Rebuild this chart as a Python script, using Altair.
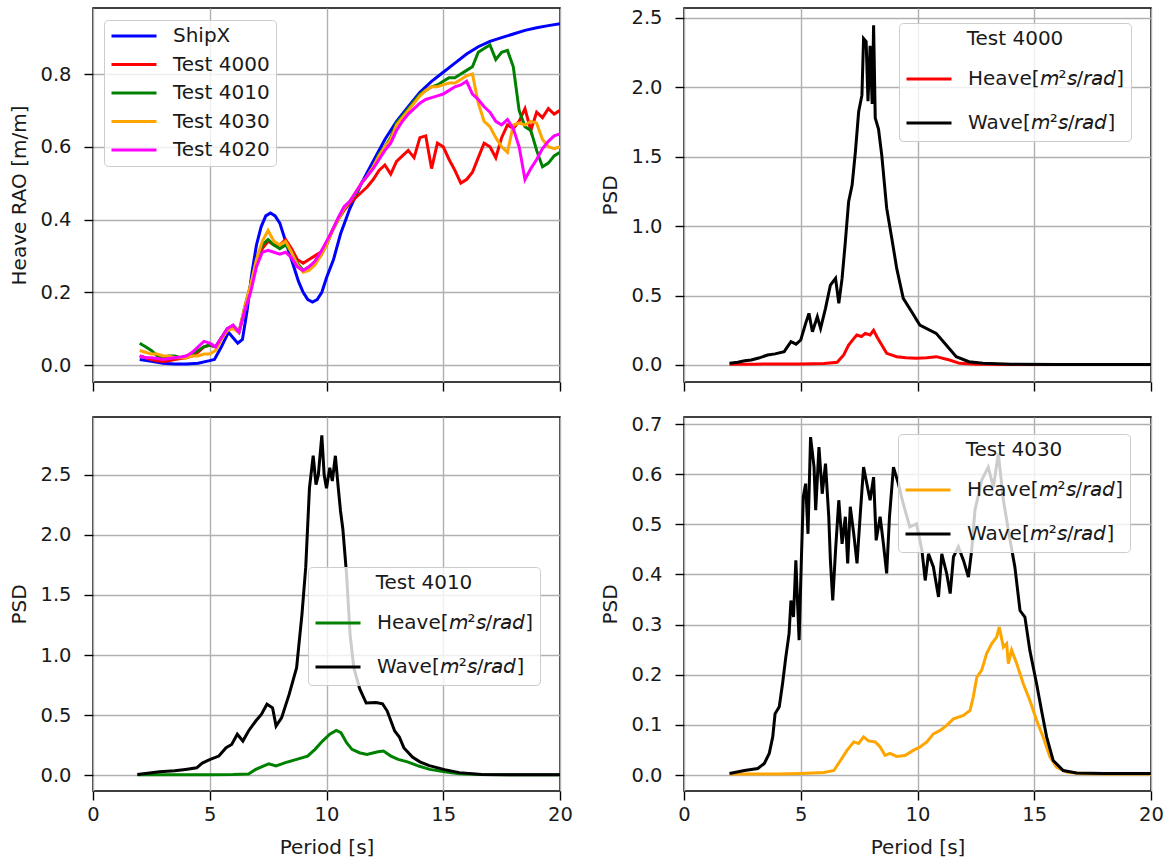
import altair as alt
import pandas as pd

FONT = "DejaVu Sans"
TXT = "#1a1a1a"
FS = 19.5      # tick labels
FT = 20        # axis titles and legend text

# ---------------- Top-left: Heave RAO ----------------
shipx_period = [2.0, 2.5, 3.0, 3.5, 4.0, 4.5, 5.0, 5.2, 5.5, 5.8, 6.0, 6.2, 6.4, 6.6, 6.8,
                7.0, 7.2, 7.4, 7.6, 7.8, 8.0, 8.2, 8.4, 8.6, 8.8, 9.0, 9.2, 9.4, 9.6, 9.8,
                10.0, 10.3, 10.6, 11.0, 11.5, 12.0, 12.5, 13.0, 13.5, 14.0, 14.5, 15.0, 15.5,
                16.0, 16.5, 17.0, 17.5, 18.0, 18.5, 19.0, 19.5, 20.0]
shipx_rao = [0.015, 0.01, 0.005, 0.003, 0.003, 0.005, 0.012, 0.015, 0.05, 0.09, 0.075, 0.06, 0.07, 0.15, 0.25,
             0.33, 0.38, 0.41, 0.418, 0.41, 0.39, 0.35, 0.31, 0.27, 0.23, 0.2, 0.18, 0.173, 0.18, 0.2,
             0.24, 0.29, 0.36, 0.43, 0.5, 0.56, 0.62, 0.67, 0.71, 0.75, 0.78, 0.805, 0.83,
             0.855, 0.875, 0.89, 0.9, 0.91, 0.92, 0.927, 0.933, 0.938]

period_rao = [2.0, 2.25, 2.5, 2.75, 3.0, 3.25, 3.5, 3.75, 4.0, 4.25, 4.5, 4.75, 5.0, 5.25, 5.5, 5.75,
              6.0, 6.25, 6.5, 6.75, 7.0, 7.25, 7.5, 7.75, 8.0, 8.25, 8.5, 8.75, 9.0, 9.25, 9.5, 9.75,
              10.0, 10.25, 10.5, 10.75, 11.0, 11.25, 11.5, 11.75, 12.0, 12.25, 12.5, 12.75, 13.0, 13.25,
              13.5, 13.75, 14.0, 14.25, 14.5, 14.75, 15.0, 15.25, 15.5, 15.75, 16.0, 16.25, 16.5, 16.75,
              17.0, 17.25, 17.5, 17.75, 18.0, 18.25, 18.5, 18.75, 19.0, 19.25, 19.5, 19.75, 20.0]
rao_4000 = [0.025, 0.02, 0.015, 0.012, 0.01, 0.012, 0.015, 0.018, 0.02, 0.025, 0.035, 0.05, 0.055, 0.05, 0.075, 0.095,
            0.105, 0.09, 0.15, 0.21, 0.28, 0.32, 0.34, 0.33, 0.33, 0.345, 0.32, 0.29, 0.28, 0.29, 0.3, 0.31,
            0.33, 0.37, 0.4, 0.425, 0.445, 0.46, 0.475, 0.49, 0.51, 0.535, 0.55, 0.525, 0.56, 0.575,
            0.59, 0.57, 0.625, 0.63, 0.54, 0.61, 0.6, 0.565, 0.535, 0.5, 0.51, 0.53, 0.57, 0.61,
            0.6, 0.57, 0.625, 0.66, 0.65, 0.67, 0.705, 0.645, 0.695, 0.68, 0.705, 0.69, 0.7]
rao_4010 = [0.06, 0.05, 0.04, 0.025, 0.02, 0.025, 0.025, 0.02, 0.025, 0.03, 0.04, 0.05, 0.055, 0.05, 0.075, 0.1,
            0.105, 0.09, 0.16, 0.22, 0.29, 0.33, 0.345, 0.33, 0.32, 0.33, 0.31, 0.28, 0.26, 0.27, 0.28, 0.3,
            0.33, 0.37, 0.4, 0.43, 0.45, 0.47, 0.5, 0.52, 0.545, 0.58, 0.6, 0.625, 0.665, 0.685,
            0.705, 0.725, 0.745, 0.755, 0.765, 0.77, 0.78, 0.79, 0.79, 0.8, 0.81, 0.82, 0.86, 0.87,
            0.88, 0.84, 0.86, 0.865, 0.82, 0.7, 0.655, 0.645, 0.59, 0.545, 0.555, 0.575, 0.585]
rao_4030 = [0.04, 0.035, 0.03, 0.03, 0.025, 0.025, 0.02, 0.02, 0.02, 0.025, 0.025, 0.03, 0.03, 0.04, 0.07, 0.095,
            0.1, 0.09, 0.16, 0.22, 0.29, 0.34, 0.37, 0.34, 0.33, 0.34, 0.31, 0.275, 0.255, 0.26, 0.275, 0.3,
            0.33, 0.37, 0.4, 0.43, 0.45, 0.475, 0.5, 0.52, 0.545, 0.575, 0.6, 0.62, 0.66, 0.68,
            0.7, 0.72, 0.74, 0.755, 0.765, 0.765, 0.77, 0.775, 0.775, 0.785, 0.795, 0.8, 0.72, 0.67,
            0.655, 0.625, 0.6, 0.585, 0.66, 0.665, 0.66, 0.67, 0.665, 0.62, 0.6, 0.595, 0.6]
rao_4020 = [0.025, 0.02, 0.02, 0.018, 0.015, 0.018, 0.02, 0.022, 0.025, 0.035, 0.05, 0.065, 0.06, 0.05, 0.075, 0.1,
            0.11, 0.09, 0.15, 0.2, 0.27, 0.31, 0.315, 0.31, 0.305, 0.31, 0.295, 0.27, 0.26, 0.27, 0.285, 0.31,
            0.34, 0.37, 0.405, 0.435, 0.45, 0.475, 0.5, 0.52, 0.54, 0.565, 0.59, 0.61, 0.645, 0.67,
            0.69, 0.705, 0.72, 0.73, 0.735, 0.74, 0.745, 0.755, 0.765, 0.77, 0.78, 0.745, 0.73, 0.71,
            0.695, 0.67, 0.66, 0.675, 0.65, 0.6, 0.51, 0.54, 0.565, 0.595, 0.615, 0.63, 0.635]

# ---------------- Top-right: PSD Test 4000 ----------------
p4000_wave_t = [1.95, 2.3, 2.6, 2.88, 3.2, 3.58, 3.9, 4.29, 4.58, 4.8, 5.0, 5.21, 5.35, 5.5, 5.71, 5.85,
                6.06, 6.27, 6.49, 6.63, 6.77, 6.91, 7.05, 7.2, 7.34, 7.48, 7.62, 7.69, 7.8, 7.88, 7.97,
                8.06, 8.12, 8.19, 8.33, 8.47, 8.68, 8.9, 9.11, 9.39, 9.75, 10.1, 10.8, 11.23, 11.66,
                12.2, 12.8, 14.0, 16.0, 18.0, 20.0]
p4000_wave = [0.012, 0.02, 0.03, 0.036, 0.05, 0.072, 0.08, 0.096, 0.168, 0.15, 0.18, 0.3, 0.372, 0.24, 0.348, 0.264,
              0.408, 0.576, 0.624, 0.444, 0.624, 0.888, 1.176, 1.296, 1.536, 1.824, 1.944, 2.352, 2.33, 1.9, 2.3,
              1.88, 2.448, 1.78, 1.7, 1.51, 1.13, 0.912, 0.696, 0.48, 0.384, 0.288, 0.228, 0.144, 0.06,
              0.024, 0.012, 0.006, 0.004, 0.004, 0.004]
p4000_heave_t = [1.95, 3.0, 4.0, 5.0, 6.0, 6.56, 6.84, 7.05, 7.27, 7.4, 7.6, 7.76, 7.97, 8.12, 8.26, 8.47,
                 8.68, 9.11, 9.5, 9.96, 10.4, 10.8, 11.37, 11.8, 12.5, 14.0, 16.0, 18.0, 20.0]
p4000_heave = [0.005, 0.006, 0.007, 0.008, 0.01, 0.02, 0.072, 0.144, 0.19, 0.216, 0.205, 0.228, 0.216, 0.25, 0.204, 0.144,
               0.084, 0.06, 0.052, 0.048, 0.052, 0.06, 0.036, 0.012, 0.005, 0.003, 0.003, 0.003, 0.003]

# ---------------- Bottom-left: PSD Test 4010 ----------------
p4010_wave_t = [1.9, 2.85, 3.5, 3.96, 4.44, 4.68, 5.02, 5.39, 5.7, 5.94, 6.18, 6.42, 6.66, 6.97, 7.21, 7.45,
                7.69, 7.84, 8.08, 8.4, 8.72, 8.95, 9.11, 9.27, 9.43, 9.55, 9.65, 9.8, 9.9, 10.0, 10.14,
                10.25, 10.38, 10.5, 10.6, 10.7, 10.86, 11.01, 11.17, 11.42, 11.7, 11.89, 12.12, 12.4, 12.6,
                12.92, 13.12, 13.31, 13.68, 14.0, 14.4, 15.06, 15.69, 16.64, 18.0, 20.0]
p4010_wave = [0.005, 0.028, 0.035, 0.047, 0.06, 0.1, 0.13, 0.158, 0.228, 0.255, 0.34, 0.283, 0.367, 0.45, 0.505, 0.59,
              0.56, 0.408, 0.478, 0.672, 0.894, 1.34, 1.73, 2.39, 2.66, 2.42, 2.5, 2.83, 2.5, 2.39, 2.56,
              2.45, 2.66, 2.4, 2.2, 2.05, 1.67, 1.17, 0.894, 0.72, 0.6, 0.603, 0.605, 0.594, 0.533,
              0.367, 0.317, 0.228, 0.15, 0.11, 0.078, 0.045, 0.02, 0.005, 0.003, 0.003]
p4010_heave_t = [1.9, 3.0, 4.0, 5.0, 6.0, 6.66, 6.97, 7.29, 7.53, 7.84, 8.24, 8.72, 9.19, 9.51, 9.83, 10.14,
                 10.42, 10.62, 10.86, 11.09, 11.41, 11.73, 12.2, 12.44, 12.76, 13.07, 13.47, 13.95, 14.42,
                 15.06, 15.69, 16.5, 18.0, 20.0]
p4010_heave = [0.003, 0.003, 0.003, 0.003, 0.004, 0.008, 0.047, 0.075, 0.094, 0.075, 0.103, 0.13, 0.158, 0.214, 0.283, 0.34,
               0.372, 0.353, 0.27, 0.214, 0.186, 0.172, 0.194, 0.2, 0.158, 0.13, 0.11, 0.075, 0.047,
               0.028, 0.011, 0.004, 0.003, 0.003]

# ---------------- Bottom-right: PSD Test 4030 ----------------
p4030_wave_t = [1.95, 2.59, 3.16, 3.44, 3.65, 3.8, 3.9, 4.08, 4.22, 4.36, 4.5, 4.58, 4.69, 4.79, 4.93, 5.03,
                5.11, 5.21, 5.31, 5.42, 5.57, 5.64, 5.78, 5.92, 6.06, 6.2, 6.27, 6.37, 6.49, 6.63, 6.77,
                6.91, 7.01, 7.12, 7.27, 7.41, 7.55, 7.69, 7.83, 7.97, 8.12, 8.23, 8.4, 8.54, 8.68, 8.8,
                8.97, 9.18, 9.39, 9.67, 9.96, 10.19, 10.33, 10.47, 10.68, 10.9, 11.04, 11.25, 11.4, 11.54,
                11.75, 11.97, 12.18, 12.32, 12.46, 12.75, 13.03, 13.25, 13.46, 13.68, 13.89, 14.17, 14.39,
                14.6, 14.81, 15.1, 15.31, 15.53, 15.81, 16.24, 16.81, 18.0, 20.0]
p4030_wave = [0.003, 0.009, 0.013, 0.023, 0.043, 0.076, 0.122, 0.136, 0.182, 0.235, 0.282, 0.348, 0.315, 0.428, 0.269, 0.435,
              0.555, 0.581, 0.481, 0.674, 0.614, 0.528, 0.654, 0.561, 0.621, 0.515, 0.428, 0.348, 0.448, 0.548, 0.461,
              0.515, 0.422, 0.535, 0.481, 0.422, 0.521, 0.614, 0.581, 0.548, 0.594, 0.468, 0.515, 0.461, 0.402, 0.515,
              0.614, 0.581, 0.541, 0.495, 0.501, 0.448, 0.388, 0.441, 0.415, 0.355, 0.441, 0.402, 0.362, 0.435,
              0.455, 0.428, 0.395, 0.448, 0.528, 0.588, 0.614, 0.574, 0.641, 0.548, 0.488, 0.415, 0.328,
              0.315, 0.249, 0.182, 0.129, 0.076, 0.029, 0.009, 0.004, 0.003, 0.003]
p4030_heave_t = [1.95, 3.0, 4.0, 5.0, 6.0, 6.42, 6.7, 6.98, 7.27, 7.48, 7.69, 7.9, 8.19, 8.4, 8.61, 8.82,
                 9.11, 9.46, 9.82, 10.11, 10.4, 10.68, 10.97, 11.25, 11.54, 11.97, 12.25, 12.39, 12.54, 12.75,
                 12.96, 13.18, 13.39, 13.5, 13.68, 13.82, 13.89, 14.03, 14.25, 14.53, 14.81, 15.1, 15.38,
                 15.67, 15.95, 16.38, 17.0, 18.0, 20.0]
p4030_heave = [0.002, 0.002, 0.002, 0.003, 0.005, 0.009, 0.029, 0.049, 0.066, 0.063, 0.076, 0.068, 0.066, 0.056, 0.039, 0.043,
               0.037, 0.039, 0.049, 0.056, 0.066, 0.082, 0.089, 0.099, 0.112, 0.119, 0.129, 0.156, 0.195, 0.209,
               0.242, 0.262, 0.275, 0.295, 0.255, 0.262, 0.222, 0.249, 0.222, 0.182, 0.149, 0.109, 0.076,
               0.036, 0.016, 0.006, 0.003, 0.002, 0.002]

UNIT = "[\U0001D62E\u00b2\U0001D634/\U0001D633\U0001D622\U0001D625]"
HEAVE = "Heave" + UNIT
WAVE = "Wave" + UNIT


def frame(series):
    rows = []
    for name, ps, vs in series:
        assert len(ps) == len(vs), (name, len(ps), len(vs))
        for p, v in zip(ps, vs):
            rows.append({"Period": p, "Value": v, "Series": name})
    return pd.DataFrame(rows)


def make_legend(title, lx, ly, clip_h, row_pad, title_pad=0):
    kw = dict(orient="none", legendX=lx, legendY=ly, symbolType="stroke", symbolSize=2025,
              symbolStrokeWidth=3, labelFontSize=FT, labelFont=FONT, labelColor=TXT, labelOffset=15,
              labelLimit=400, clipHeight=clip_h, rowPadding=row_pad,
              fillColor="rgba(255,255,255,0.8)", strokeColor="#cccccc", cornerRadius=4, padding=6)
    if title:
        kw.update(title=title, titleFontSize=FT, titleFont=FONT, titleFontWeight="normal",
                  titleColor=TXT, titleAnchor="middle", titlePadding=title_pad)
    else:
        kw["title"] = None
    return alt.Legend(**kw)


def panel(df, names, colors, ydom, yvals, ytitle, legend, bottom):
    if bottom:
        xaxis = alt.Axis(values=[0, 5, 10, 15, 20], format="d", title="Period [s]", labelFlush=False)
    else:
        xaxis = alt.Axis(values=[0, 5, 10, 15, 20], labels=False, title=None)
    return alt.Chart(df).mark_line(strokeWidth=3, clip=True).encode(
        x=alt.X("Period:Q", scale=alt.Scale(domain=[0, 20], nice=False, zero=False), axis=xaxis),
        y=alt.Y("Value:Q", scale=alt.Scale(domain=ydom, nice=False, zero=False),
                axis=alt.Axis(values=yvals, format=".1f", title=ytitle)),
        color=alt.Color("Series:N", sort=names,
                        scale=alt.Scale(domain=names, range=colors), legend=legend),
    ).properties(width=467, height=374)


rao_names = ["ShipX", "Test 4000", "Test 4010", "Test 4030", "Test 4020"]
rao_colors = ["#0000ff", "#ff0000", "#008000", "#ffa500", "#ff00ff"]
df_rao = frame([
    ("ShipX", shipx_period, shipx_rao),
    ("Test 4000", period_rao, rao_4000),
    ("Test 4010", period_rao, rao_4010),
    ("Test 4030", period_rao, rao_4030),
    ("Test 4020", period_rao, rao_4020),
])
p1 = panel(df_rao, rao_names, rao_colors, [-0.0467, 0.9815], [0, 0.2, 0.4, 0.6, 0.8],
           "Heave RAO [m/m]", make_legend(None, 11, 12, FT, 8.5), False)

psd_names = [HEAVE, WAVE]
p2 = panel(frame([(HEAVE, p4000_heave_t, p4000_heave), (WAVE, p4000_wave_t, p4000_wave)]),
           psd_names, ["#ff0000", "#000000"], [-0.1225, 2.572], [0, 0.5, 1.0, 1.5, 2.0, 2.5],
           "PSD", make_legend("Test 4000", 215, 15, 24, 20, 18), False)
p3 = panel(frame([(HEAVE, p4010_heave_t, p4010_heave), (WAVE, p4010_wave_t, p4010_wave)]),
           psd_names, ["#008000", "#000000"], [-0.133, 2.983], [0, 0.5, 1.0, 1.5, 2.0, 2.5],
           "PSD", make_legend("Test 4010", 215, 150, 24, 20, 18), True)
p4 = panel(frame([(HEAVE, p4030_heave_t, p4030_heave), (WAVE, p4030_wave_t, p4030_wave)]),
           psd_names, ["#ffa500", "#000000"], [-0.0319, 0.714], [0, 0.1, 0.2, 0.3, 0.4, 0.5, 0.6, 0.7],
           "PSD", make_legend("Test 4030", 214, 17, 24, 20, 18), True)

chart = alt.concat(p1, p2, p3, p4, columns=2, spacing={"row": 20, "column": 26}).resolve_scale(
    color="independent"
).properties(
    padding={"left": 9, "top": 7, "right": 0, "bottom": 0},
    background="white",
).configure_view(
    stroke="black", strokeWidth=1.5
).configure_axis(
    labelFont=FONT, titleFont=FONT, labelFontSize=FS, titleFontSize=FT, titleFontWeight="normal",
    labelColor=TXT, titleColor=TXT, tickColor="black", tickSize=9, tickWidth=1.4,
    gridColor="#b0b0b0", gridWidth=1.4, domain=False,
).configure_axisX(
    labelPadding=5, titlePadding=14
).configure_axisY(
    labelPadding=13, titlePadding=10
)

chart.save("out.html", embed_options={"renderer": "svg", "actions": False})
